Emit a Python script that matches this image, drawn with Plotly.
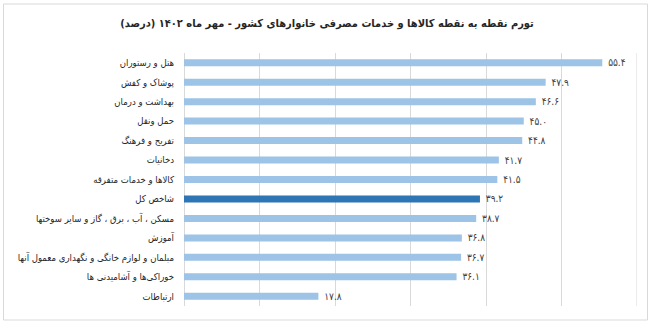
import plotly.graph_objects as go

categories = [
    "هتل و رستوران",
    "پوشاک و کفش",
    "بهداشت و درمان",
    "حمل ونقل",
    "تفریح و فرهنگ",
    "دخانیات",
    "کالاها و خدمات متفرقه",
    "شاخص کل",
    "مسکن ، آب ، برق ، گاز و سایر سوختها",
    "آموزش",
    "مبلمان و لوازم خانگی و نگهداری معمول آنها",
    "خوراکی‌ها و آشامیدنی ها",
    "ارتباطات",
]
values = [55.4, 47.9, 46.6, 45.0, 44.8, 41.7, 41.5, 39.2, 38.7, 36.8, 36.7, 36.1, 17.8]
highlight = "شاخص کل"
title_text = "تورم نقطه به نقطه کالاها و خدمات مصرفی خانوارهای کشور - مهر ماه ۱۴۰۲ (درصد)"

LIGHT = "#9dc3e6"
DARK = "#2e75b6"

def to_fa(v):
    s = f"{v:.1f}"
    return s.translate(str.maketrans("0123456789", "۰۱۲۳۴۵۶۷۸۹"))

colors = [DARK if c == highlight else LIGHT for c in categories]
texts = [to_fa(v) for v in values]

font_family = "DejaVu Sans Condensed, DejaVu Sans, sans-serif"

L, R, T, B = 184, 17, 53, 17
PW, PH = 654 - L - R, 323 - T - B

fig = go.Figure(
    go.Bar(
        y=categories,
        x=values,
        orientation="h",
        marker=dict(color=colors, line=dict(width=0)),
        width=0.36,
        text=[" " + t for t in texts],
        textposition="outside",
        constraintext="none",
        textfont=dict(size=10, color="#404040", family=font_family),
        cliponaxis=False,
    )
)

fig.update_layout(
    width=654,
    height=323,
    margin=dict(l=L, r=R, t=T, b=B, autoexpand=False),
    paper_bgcolor="white",
    plot_bgcolor="white",
    showlegend=False,
    title=dict(
        text=title_text,
        x=0.5,
        xref="container",
        y=1 - 23 / 323,
        yref="container",
        xanchor="center",
        yanchor="middle",
        font=dict(size=11, color="#262626", family=font_family, weight="bold"),
    ),
    xaxis=dict(
        range=[0, 60],
        dtick=10,
        showticklabels=False,
        showgrid=True,
        gridcolor="#d9d9d9",
        gridwidth=1,
        zeroline=True,
        zerolinecolor="#d9d9d9",
        zerolinewidth=1,
        showline=False,
        fixedrange=True,
        automargin=False,
    ),
    yaxis=dict(
        autorange="reversed",
        showgrid=False,
        ticks="",
        ticklabelstandoff=9,
        tickfont=dict(size=9.5, color="#262626", family=font_family),
        showline=False,
        fixedrange=True,
        automargin=False,
    ),
    shapes=[
        dict(
            type="line", xref="x", yref="paper", x0=60, x1=60, y0=0, y1=1,
            line=dict(color="#d9d9d9", width=1), layer="below",
        ),
        dict(
            type="rect", xref="paper", yref="paper",
            x0=(3.5 - L) / PW, x1=(647.5 - L) / PW,
            y0=(323 - 320 - B) / PH, y1=(323 - 4 - B) / PH,
            line=dict(color="#d9d9d9", width=1), fillcolor="rgba(0,0,0,0)",
        ),
    ],
)

fig.write_html("out.html")
